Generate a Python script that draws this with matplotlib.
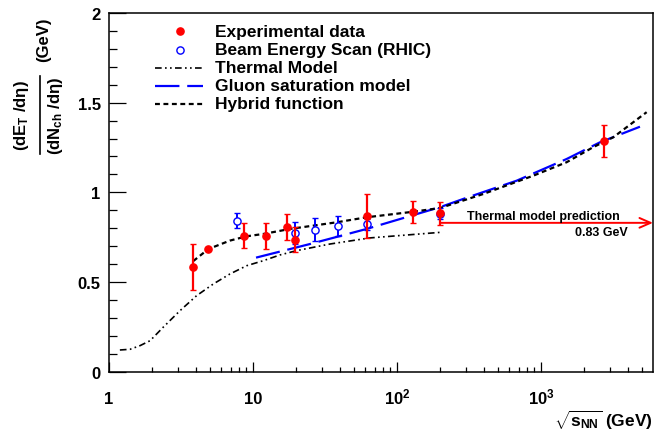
import numpy as np
import matplotlib
matplotlib.use("Agg")
import matplotlib.pyplot as plt
from matplotlib.ticker import FixedLocator, NullFormatter
from matplotlib.lines import Line2D

plt.rcParams['font.family'] = ['Liberation Sans', 'DejaVu Sans']
plt.rcParams['font.weight'] = 'bold'
plt.rcParams['mathtext.fontset'] = 'custom'
plt.rcParams['mathtext.rm'] = 'Liberation Sans:bold'
plt.rcParams['mathtext.it'] = 'Liberation Sans:bold'
plt.rcParams['mathtext.bf'] = 'Liberation Sans:bold'
plt.rcParams['mathtext.sf'] = 'Liberation Sans:bold'
plt.rcParams['mathtext.default'] = 'bf'

# ---------------- data ----------------
exp_x = [3.85, 4.85, 8.7, 12.3, 17.3, 19.6, 62.4, 130, 200, 2760]
exp_y = [0.582, 0.684, 0.758, 0.755, 0.809, 0.736, 0.870, 0.889, 0.883, 1.287]
exp_err = [0.128, 0.0, 0.070, 0.072, 0.072, 0.071, 0.123, 0.062, 0.065, 0.088]

bes_x = [7.7, 19.6, 27, 39, 62.4, 200]
bes_y = [0.842, 0.774, 0.792, 0.811, 0.822, 0.880]
bes_err = [0.042, 0.060, 0.063, 0.055, 0.030, 0.030]

thermal_x = [1.19, 1.4, 1.64, 1.93, 2.38, 3.11, 4.06, 5.30, 6.92, 9.04, 11.8, 15.4,
             20.1, 34.3, 65, 200]
thermal_y = [0.121, 0.125, 0.145, 0.173, 0.248, 0.340, 0.424, 0.489, 0.545, 0.591,
             0.619, 0.651, 0.675, 0.712, 0.746, 0.777]

gluon_x = [10.5, 24.9, 61.6, 200, 305, 678, 1508, 2570, 4870]
gluon_y = [0.636, 0.712, 0.796, 0.918, 0.970, 1.065, 1.186, 1.279, 1.366]

hybrid_x = [3.85, 4.9, 6.92, 9.04, 11.8, 18.1, 38.1, 61.6, 130, 200, 398, 885,
            1508, 2307, 3177, 5420]
hybrid_y = [0.617, 0.684, 0.731, 0.755, 0.768, 0.796, 0.833, 0.861, 0.892, 0.913,
            0.991, 1.093, 1.168, 1.252, 1.307, 1.447]

arrow_start = 200
arrow_end = 6000
arrow_y = 0.83

xticks = [1, 10, 100, 1000]
xticklabels = ['1', '10', r'10$^{2}$', r'10$^{3}$']
yticks = [0, 0.5, 1, 1.5, 2]
yticklabels = ['0', '0.5', '1', '1.5', '2']

legend_labels = ['Experimental data', 'Beam Energy Scan (RHIC)', 'Thermal Model',
                 'Gluon saturation model', 'Hybrid function']

# ---------------- figure ----------------
W, H = 660, 439
fig = plt.figure(figsize=(W / 100, H / 100), dpi=100)
L, R, T, B = 109, 653, 14, 372.7
ax = fig.add_axes([L / W, 1 - B / H, (R - L) / W, (B - T) / H])


def fx(px):
    return px / W


def fy(py):
    return 1 - py / H


RED = '#ff0000'
BLUE = '#0000ff'

thermal_dash = (4.0, 2.0, 1.0, 2.0, 1.0, 2.0)
gluon_dash = (11, 3.5)
hybrid_dash = (2.2, 1.6)

ax.plot(thermal_x, thermal_y, color='black', lw=1.2, dashes=thermal_dash)
ax.plot(gluon_x, gluon_y, color=BLUE, lw=1.6, dashes=gluon_dash, dash_capstyle='butt')
ax.plot(hybrid_x, hybrid_y, color='black', lw=1.6, dashes=hybrid_dash)

ax.annotate('', xy=(arrow_end, arrow_y), xytext=(arrow_start, arrow_y),
            arrowprops=dict(arrowstyle='->,head_length=0.8,head_width=0.35',
                            color=RED, lw=1.4, shrinkA=0, shrinkB=0), zorder=3)

ax.errorbar(bes_x, bes_y, yerr=bes_err, fmt='o', ms=5.2, mfc='white', mec=BLUE,
            mew=1.0, ecolor=BLUE, elinewidth=1.4, capsize=2, capthick=1.0, zorder=4)
ax.errorbar(exp_x, exp_y, yerr=exp_err, fmt='o', ms=5.2, mfc=RED, mec=RED,
            ecolor=RED, elinewidth=1.6, capsize=2, capthick=1.0, zorder=5)

ax.set_xscale('log')
ax.set_xlim(1, 6000)
ax.set_ylim(0, 2)

ax.xaxis.set_major_locator(FixedLocator(xticks))
ax.xaxis.set_major_formatter(NullFormatter())
minors = [m * 10 ** d for d in range(0, 4) for m in range(2, 10)]
ax.xaxis.set_minor_locator(FixedLocator([v for v in minors if v < 6000]))
ax.xaxis.set_minor_formatter(NullFormatter())
ax.set_yticks(yticks, yticklabels)
ax.yaxis.set_minor_locator(FixedLocator(np.arange(0, 2.001, 0.1)))

ax.tick_params(which='both', direction='in', top=False, right=False, color='black')
ax.tick_params(axis='x', which='major', length=7.2, width=0.9)
ax.tick_params(axis='x', which='minor', length=3.6, width=0.9)
ax.tick_params(axis='y', which='major', length=12, width=0.9, pad=6, labelsize=12)
ax.tick_params(axis='y', which='minor', length=6, width=0.9)
for lab in ax.get_yticklabels():
    lab.set_fontweight('bold')
for s in ax.spines.values():
    s.set_linewidth(1.1)

# x tick labels aligned on a common baseline
for xv, lab in zip(xticks, xticklabels):
    ax.annotate(lab, xy=(xv, 0), xycoords=('data', 'axes fraction'),
                xytext=(0, -(404 - 372.7) * 0.72), textcoords='offset points',
                ha='center', va='baseline', fontsize=12, fontweight='bold')

fig.text(fx(543), fy(220.5), 'Thermal model prediction', fontsize=9,
         ha='center', va='baseline')
fig.text(fx(628), fy(236), '0.83 GeV', fontsize=9, ha='right', va='baseline')

# legend (manual)
rows = [32.3, 50.7, 68.5, 86.7, 104.8]
for i, (py, lab) in enumerate(zip(rows, legend_labels)):
    y = fy(py)
    if i == 0:
        fig.add_artist(Line2D([fx(180)], [y], marker='o', ms=5.2, color=RED,
                              ls='none', transform=fig.transFigure))
    elif i == 1:
        fig.add_artist(Line2D([fx(180)], [y], marker='o', ms=5.2, mfc='white',
                              mec=BLUE, mew=1.0, ls='none', transform=fig.transFigure))
    elif i == 2:
        fig.add_artist(Line2D([fx(155), fx(203)], [y, y], color='black', lw=1.2,
                              dashes=thermal_dash, transform=fig.transFigure))
    elif i == 3:
        fig.add_artist(Line2D([fx(155), fx(203)], [y, y], color=BLUE, lw=1.6,
                              dashes=gluon_dash, transform=fig.transFigure))
    else:
        fig.add_artist(Line2D([fx(155), fx(203)], [y, y], color='black', lw=1.6,
                              dashes=hybrid_dash, transform=fig.transFigure))
    fig.text(fx(215), y, lab, fontsize=12.5, ha='left', va='center')

# y axis title: fraction built from pieces
fig.text(fx(21.5), fy(116), r'(dE$_{T}$ /d$\eta$)', rotation=90, ha='center',
         va='center', fontsize=12)
fig.add_artist(Line2D([fx(40), fx(40)], [fy(77), fy(155)], color='black', lw=1.2,
                      transform=fig.transFigure))
fig.text(fx(55.5), fy(116), r'(dN$_{ch}$ /d$\eta$)', rotation=90, ha='center',
         va='center', fontsize=12)
fig.text(fx(43.5), fy(39.5), '(GeV)', rotation=90, ha='center', va='center',
         fontsize=12)

# x axis title
fig.text(fx(653), fy(420), r'$\sqrt{s_{NN}}$ (GeV)', ha='right', va='center',
         fontsize=12.5)

fig.savefig('out.png', dpi=100)
